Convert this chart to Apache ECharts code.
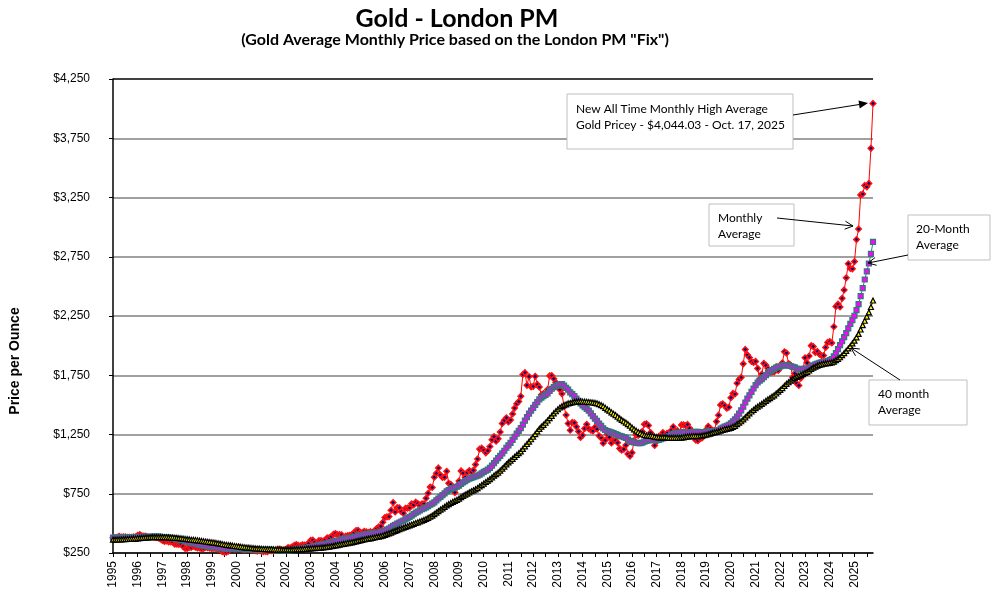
<!DOCTYPE html>
<html>
<head>
<meta charset="utf-8">
<script src="https://cdn.jsdelivr.net/npm/echarts@6/dist/echarts.min.js"></script>
<style>
html,body{margin:0;padding:0;background:#fff;}
#chart{width:994px;height:594px;}
</style>
</head>
<body>
<div id="chart"></div>
<script>
// Year tick labels (one per January)
const years = ['1995','1996','1997','1998','1999','2000','2001','2002','2003','2004','2005','2006','2007','2008','2009','2010','2011','2012','2013','2014','2015','2016','2017','2018','2019','2020','2021','2022','2023','2024','2025'];

// Monthly average price (Jan 1995 .. Oct 2025)
const monthly = [
379,376,382,391,385,387,386,383,383,383,386,387,
400,405,396,393,392,385,383,387,383,381,378,369,
355,347,352,344,344,341,324,324,323,325,306,289,
289,297,296,308,299,292,293,284,289,296,294,291,
287,288,286,282,277,262,256,257,265,311,293,283,
284,300,286,280,275,285,282,274,273,270,266,272,
266,262,263,261,272,270,268,273,283,283,276,275,
282,296,294,302,314,321,314,310,319,317,319,333,
357,359,340,328,355,356,351,360,379,379,389,407,
414,405,406,404,384,392,398,400,406,420,439,442,
424,423,434,429,422,430,424,438,456,470,476,510,
550,555,557,610,676,596,633,632,598,586,628,629,
631,665,655,679,667,655,665,665,712,754,806,803,
889,922,968,909,888,890,939,839,829,806,760,816,
858,943,925,890,929,945,934,949,996,1043,1127,1135,
1118,1095,1113,1148,1205,1233,1193,1215,1271,1343,1370,1391,
1356,1372,1424,1473,1510,1529,1572,1756,1772,1665,1739,1652,
1656,1742,1673,1650,1585,1596,1594,1630,1745,1747,1721,1688,
1671,1627,1593,1487,1414,1343,1286,1352,1349,1316,1275,1225,
1244,1300,1336,1299,1287,1279,1311,1296,1239,1222,1176,1202,
1251,1227,1179,1198,1199,1181,1131,1117,1125,1159,1086,1068,
1097,1199,1246,1242,1260,1276,1337,1341,1326,1267,1238,1157,
1192,1234,1231,1266,1246,1260,1236,1283,1315,1280,1283,1265,
1331,1331,1325,1335,1303,1282,1238,1202,1198,1215,1221,1250,
1291,1320,1300,1286,1284,1359,1413,1500,1510,1495,1471,1480,
1560,1597,1592,1683,1716,1732,1846,1968,1922,1900,1866,1858,
1867,1808,1718,1760,1850,1834,1807,1785,1775,1777,1821,1790,
1817,1856,1948,1937,1849,1837,1733,1764,1681,1664,1726,1798,
1898,1855,1912,2000,1992,1943,1951,1928,1916,1916,1985,2027,
2034,2023,2159,2331,2350,2326,2399,2470,2572,2691,2651,2648,
2709,2895,2984,3272,3280,3352,3340,3369,3665,4044
];

// 20-month average
const avg20 = [
380,381,380,381,382,383,384,384,384,384,384,384,
385,386,387,387,387,387,387,387,388,388,388,387,
385,383,381,380,378,375,372,369,365,361,357,352,
346,342,338,334,330,325,321,317,313,311,308,305,
302,300,298,296,293,290,288,286,285,286,286,284,
284,284,284,283,283,282,282,281,280,279,278,278,
277,277,277,278,278,276,275,274,274,273,273,272,
273,273,274,275,277,280,282,284,287,290,292,296,
300,305,308,311,315,318,322,326,331,335,340,345,
350,355,359,364,367,371,375,378,381,384,389,394,
398,401,405,409,411,413,415,417,419,422,426,431,
439,447,455,466,479,488,498,507,516,524,534,544,
554,566,578,590,600,609,619,627,635,645,657,667,
677,694,710,724,739,754,770,780,790,797,802,809,
819,833,846,857,868,878,884,891,897,903,911,922,
934,944,953,968,987,1008,1030,1050,1070,1090,1113,1138,
1159,1180,1205,1231,1257,1281,1303,1334,1367,1396,1427,1452,
1475,1500,1524,1546,1562,1574,1585,1597,1617,1636,1650,1661,
1669,1674,1675,1662,1644,1628,1605,1590,1575,1553,1534,1512,
1495,1480,1467,1451,1428,1405,1384,1365,1343,1323,1302,1288,
1279,1274,1268,1261,1253,1246,1239,1234,1228,1221,1208,1197,
1187,1183,1180,1177,1178,1181,1189,1196,1200,1202,1205,1203,
1202,1205,1210,1217,1223,1229,1236,1247,1258,1262,1264,1265,
1268,1271,1270,1270,1269,1270,1270,1272,1272,1271,1271,1270,
1272,1275,1278,1279,1277,1281,1288,1299,1308,1316,1324,1331,
1344,1360,1377,1401,1427,1453,1484,1520,1552,1581,1609,1638,
1667,1689,1705,1718,1735,1751,1768,1784,1794,1803,1815,1820,
1825,1831,1836,1835,1831,1828,1821,1817,1807,1800,1801,1803,
1805,1806,1811,1822,1833,1841,1848,1855,1859,1862,1864,1869,
1878,1887,1909,1937,1970,2004,2037,2071,2105,2146,2183,2216,
2252,2299,2351,2418,2486,2558,2626,2693,2774,2875
];

// 40-month average
const avg40 = [
363,363,364,364,365,366,367,368,369,370,371,372,
374,375,377,378,380,381,383,384,384,384,384,384,
384,383,383,382,381,380,378,377,375,374,372,369,
367,365,362,361,359,357,354,352,349,347,345,342,
340,338,335,332,329,326,322,319,316,314,312,309,
307,305,302,300,298,296,295,293,291,289,288,287,
285,284,283,282,281,281,280,279,279,279,278,278,
278,278,278,278,279,280,280,281,282,283,285,287,
289,290,291,293,294,296,297,299,302,304,307,310,
314,317,321,324,327,330,334,337,340,344,348,353,
356,360,364,368,371,374,378,381,385,388,392,397,
403,409,415,422,430,436,443,451,457,463,470,476,
483,490,496,503,509,516,522,529,537,546,556,566,
578,591,604,616,627,639,652,662,672,682,690,699,
709,721,732,742,751,761,771,779,787,798,811,823,
836,849,861,874,888,903,916,929,945,962,979,998,
1014,1029,1045,1061,1077,1092,1107,1128,1150,1170,1190,1210,
1231,1254,1277,1298,1316,1332,1349,1368,1388,1408,1428,1446,
1463,1478,1489,1498,1505,1512,1516,1521,1525,1527,1529,1529,
1528,1527,1526,1524,1522,1520,1517,1513,1506,1498,1489,1475,
1462,1451,1437,1425,1414,1400,1386,1373,1362,1351,1338,1324,
1308,1294,1282,1271,1261,1252,1245,1242,1240,1238,1237,1232,
1228,1226,1225,1226,1226,1225,1222,1222,1222,1222,1222,1221,
1223,1226,1230,1233,1234,1236,1237,1237,1237,1238,1240,1244,
1248,1252,1257,1263,1267,1271,1276,1282,1288,1294,1297,1301,
1306,1315,1323,1337,1350,1362,1378,1395,1412,1428,1444,1458,
1472,1485,1496,1508,1521,1534,1546,1557,1569,1581,1596,1611,
1626,1642,1660,1678,1691,1704,1715,1727,1737,1745,1753,1760,
1770,1779,1790,1803,1814,1822,1831,1837,1842,1847,1850,1852,
1855,1858,1865,1877,1889,1902,1919,1937,1955,1976,1997,2019,
2042,2070,2099,2136,2173,2210,2245,2281,2326,2381
];

const monthNames = ['01','02','03','04','05','06','07','08','09','10','11','12'];
const categories = [];
years.forEach(y => monthNames.forEach(m => categories.push(y + '-' + m)));
categories.length = monthly.length;

const chart = echarts.init(document.getElementById('chart'), null, {renderer: 'canvas'});

const axisFont = '"Liberation Sans", Arial, sans-serif';
const noteFont = 'Lato, "Open Sans", sans-serif';
const gridColors = ['#808080','#808080','#808080','#808080','#808080','#808080','#808080','#808080','#000000'];

function box(x, y, w, h, lines, tx, ty) {
  return [
    {type: 'rect', shape: {x: x, y: y, width: w, height: h}, style: {fill: '#fff', stroke: '#BFBFBF', lineWidth: 1}, z: 100},
    {type: 'text', x: tx, y: ty, style: {text: lines, font: '12px ' + noteFont, fill: '#000', lineHeight: 16, textVerticalAlign: 'top'}, z: 101}
  ];
}

const option = {
  animation: false,
  backgroundColor: '#fff',
  grid: {left: 113, right: 121, top: 79, bottom: 41, containLabel: false},
  xAxis: {
    type: 'category',
    data: categories,
    boundaryGap: false,
    axisLine: {show: true, lineStyle: {color: '#000', width: 1.5}},
    axisTick: {show: true, length: 4, interval: function (i) { return i % 6 === 0; }, lineStyle: {color: '#000', width: 1}},
    axisLabel: {
      interval: function (i) { return i % 12 === 0; },
      formatter: function (v) { return v.slice(0, 4); },
      rotate: 90, margin: 8, fontSize: 12, fontFamily: 'Liberation Sans', color: '#000'
    },
    splitLine: {show: false}
  },
  yAxis: {
    type: 'value',
    min: 250, max: 4250, interval: 500,
    axisLine: {show: true, lineStyle: {color: '#000', width: 1.5}},
    axisTick: {show: true, length: 4, lineStyle: {color: '#000'}},
    axisLabel: {
      formatter: function (v) { return '$' + v.toLocaleString('en-US'); },
      margin: 23, fontSize: 12, fontFamily: 'Liberation Sans', color: '#000'
    },
    splitLine: {show: true, lineStyle: {color: gridColors, width: 1.5}}
  },
  series: [
    {
      name: 'Monthly Average', type: 'line', data: monthly,
      symbol: 'diamond', symbolSize: 5.5, showAllSymbol: true,
      lineStyle: {color: '#FF0000', width: 1},
      itemStyle: {color: '#000080', borderColor: '#FF1010', borderWidth: 1.5},
      z: 2
    },
    {
      name: '20-Month Average', type: 'line', data: avg20,
      symbol: 'rect', symbolSize: 5, showAllSymbol: true,
      lineStyle: {color: '#2E7F7F', width: 1},
      itemStyle: {color: '#FF00FF', borderColor: '#2E7A7A', borderWidth: 1.2},
      z: 3
    },
    {
      name: '40-Month Average', type: 'line', data: avg40,
      symbol: 'triangle', symbolSize: 5, showAllSymbol: true,
      lineStyle: {color: '#000', width: 1},
      itemStyle: {color: '#FFFF00', borderColor: '#000', borderWidth: 1.2},
      z: 4
    }
  ],
  graphic: [
    {type: 'text', x: 457, y: 19, style: {text: 'Gold - London PM', font: 'bold 25px Lato, "DejaVu Sans", sans-serif', fill: '#000', textAlign: 'center', textVerticalAlign: 'middle'}},
    {type: 'text', x: 455, y: 40, style: {text: '(Gold Average Monthly Price based on the London PM "Fix")', font: 'bold 16px Lato, "DejaVu Sans", sans-serif', fill: '#000', textAlign: 'center', textVerticalAlign: 'middle'}},
    {type: 'text', x: 15, y: 361, rotation: Math.PI / 2, style: {text: 'Price per Ounce', font: 'bold 14px ' + axisFont, fill: '#000', textAlign: 'center', textVerticalAlign: 'middle'}},
  ].concat(
    box(567, 94, 226, 55, 'New All Time Monthly High Average\nGold Pricey - $4,044.03 - Oct. 17, 2025', 576, 101),
    box(709, 204, 85, 42, 'Monthly\nAverage', 718, 210),
    box(908, 215, 82, 45, '20-Month\nAverage', 916, 221),
    box(869, 380, 98, 45, '40 month\nAverage', 878, 386),
    [
      {type: 'line', shape: {x1: 793, y1: 115, x2: 860, y2: 104.4}, style: {stroke: '#000', lineWidth: 1}, z: 102},
      {type: 'polygon', shape: {points: [[868, 103], [859.7, 108.4], [858.5, 100.5]]}, style: {fill: '#000'}, z: 102},
      {type: 'line', shape: {x1: 777, y1: 218, x2: 853, y2: 226}, style: {stroke: '#000', lineWidth: 1}, z: 102},
      {type: 'polyline', shape: {points: [[845.4, 221.2], [853, 226], [844.6, 229.2]]}, style: {stroke: '#000', lineWidth: 1, fill: null}, z: 102},
      {type: 'line', shape: {x1: 908, y1: 255, x2: 868, y2: 263}, style: {stroke: '#000', lineWidth: 1}, z: 102},
      {type: 'polyline', shape: {points: [[875.1, 257.5], [868, 263], [876.6, 265.3]]}, style: {stroke: '#000', lineWidth: 1, fill: null}, z: 102},
      {type: 'line', shape: {x1: 900, y1: 380, x2: 851, y2: 348}, style: {stroke: '#000', lineWidth: 1}, z: 102},
      {type: 'polyline', shape: {points: [[859.9, 349], [851, 348], [855.5, 355.8]]}, style: {stroke: '#000', lineWidth: 1, fill: null}, z: 102}
    ]
  )
};

chart.setOption(option);
</script>
</body>
</html>
